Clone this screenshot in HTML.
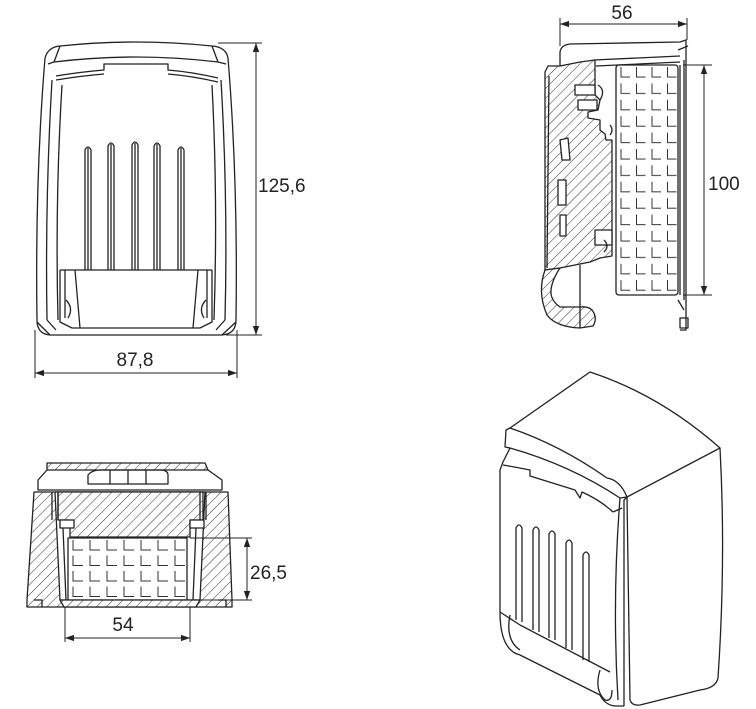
<!DOCTYPE html>
<html><head><meta charset="utf-8"><style>
html,body{margin:0;padding:0;background:#fff;}
svg{display:block;}
text{font-family:"Liberation Sans",sans-serif;font-size:19px;fill:#222;}
</style></head><body>
<svg width="756" height="709" viewBox="0 0 756 709" xmlns="http://www.w3.org/2000/svg">
<defs>
<pattern id="h" width="7" height="7" patternUnits="userSpaceOnUse" patternTransform="rotate(45)">
<rect width="7" height="7" fill="#fff"/><line x1="0" y1="0" x2="0" y2="7" stroke="#333" stroke-width="1"/>
</pattern>
<pattern id="g1" x="616" y="65" width="15.5" height="16.4" patternUnits="userSpaceOnUse">
<rect width="15.5" height="16.4" fill="#fff"/>
<path d="M5 2 V12 H14" fill="none" stroke="#333" stroke-width="1"/>
</pattern>
<pattern id="g2" x="68" y="538" width="17" height="15.5" patternUnits="userSpaceOnUse">
<rect width="17" height="15.5" fill="#fff"/>
<path d="M5 2 V12 H15" fill="none" stroke="#333" stroke-width="1"/>
</pattern>
<marker id="a" viewBox="0 0 10 10" refX="10" refY="5" markerWidth="9" markerHeight="9" orient="auto-start-reverse" markerUnits="userSpaceOnUse">
<path d="M0,1.5 L10,5 L0,8.5 Z" fill="#222"/></marker>
</defs>
<g fill="none" stroke="#222" stroke-width="1.3" stroke-linejoin="round">

<!-- FRONT VIEW -->
<path d="M45,58 Q48,47 60,46 Q135,38 212,46 Q226,47 228,58 Q238,180 236,320 Q236,334 222,335 L50,335 Q37,334 37,320 Q35,180 45,58 Z"/>
<path d="M54,62 Q135,52 218,62"/>
<path d="M56,76 Q80,72 104,70 L104,64 L168,64 L168,70 Q192,72 218,78"/>
<path d="M56,80 Q80,76 104,74 M168,74 Q192,76 218,82"/>
<path d="M48,64 L54,62 M60,46 L54,62 M212,46 L218,62 M226,64 L218,62"/>
<path d="M62,85 Q55,200 58,320 M212,85 Q218,200 214,320"/>
<path d="M52,80 Q45,200 47,320 M221,80 Q228,200 225,320"/>
<path d="M60,270 L212,270 M60,270 L60,322 L72,328 L200,328 L212,322 L212,270"/>
<path d="M75,270 L80,328 M198,270 L193,328 M65,270 L65,318 M207,270 L207,318"/>
<path d="M66,300 Q74,308 68,318 M206,300 Q198,308 204,318"/>
<path d="M47,320 L56,330 M225,320 L216,330 M37,322 L50,335 M236,322 L222,335"/>
<g>
<path d="M85,270 V150 Q88,144 91,150 V270 M88,270 V148"/>
<path d="M108,270 V146 Q111,140 114,146 V270 M111,270 V144"/>
<path d="M132,270 V145 Q135,139 138,145 V270 M135,270 V143"/>
<path d="M154,270 V146 Q157,140 160,146 V270 M157,270 V144"/>
<path d="M178,270 V150 Q181,144 184,150 V270 M181,270 V148"/>
</g>
<g stroke-width="1">
<path d="M218,43 H262 M226,335 H262 M35,330 V378 M237,330 V378"/>
</g>
<line x1="256" y1="43" x2="256" y2="335" marker-start="url(#a)" marker-end="url(#a)" stroke-width="1"/>
<line x1="35" y1="373" x2="237" y2="373" marker-start="url(#a)" marker-end="url(#a)" stroke-width="1"/>

<!-- SIDE VIEW -->
<path d="M560,70 V52 Q561,45 570,44 L680,42 L686,40 V330 H680" />
<path d="M594,60 L680,56 M596,66 L680,62 M678,50 L688,46"/>
<rect x="616" y="65" width="62" height="230" rx="3" fill="url(#g1)"/>
<path d="M680,65 V295 M684,60 V300 M678,300 L684,310 M680,318 H688 V328 H680 Z"/>
<path d="M545,72 L548,66 L560,66 L580,62 L595,60 L595,95 L600,100 L598,110 L588,112 L588,118 L600,120 L600,130 L605,134 L606,140 L612,140 L612,256 L600,258 L590,262 L575,265 L560,268 L545,270 Z" fill="url(#h)"/>
<path d="M545,270 Q537,292 547,315 Q556,327 580,328 L593,326 Q598,318 592,310 Q588,306 580,307 L560,307 Q550,300 551,290 Q552,280 560,268 Z" fill="url(#h)"/>
<path d="M549,76 L547,268 M580,265 V328"/>
<path d="M575,85 H595 V95 H575 Z M578,100 H597 V110 H578 Z" fill="#fff"/>
<path d="M560,140 L568,138 L570,160 L562,160 Z M558,180 L566,180 L566,205 L558,205 Z M560,215 L566,215 L566,236 L560,236 Z" fill="#fff"/>
<path d="M595,230 H612 V245 H595 Z" fill="#fff"/>
<path d="M598,85 Q606,90 600,100 M604,240 Q610,246 604,252 M610,125 Q614,130 610,135"/>
<g stroke-width="1">
<path d="M560,18 V46 M687,18 V40 M683,65 H712 M683,295 H712"/>
</g>
<line x1="560" y1="24" x2="687" y2="24" marker-start="url(#a)" marker-end="url(#a)" stroke-width="1"/>
<line x1="704" y1="65" x2="704" y2="295" marker-start="url(#a)" marker-end="url(#a)" stroke-width="1"/>

<!-- BOTTOM VIEW -->
<path d="M34,492 L27,600 L27,607 L232,607 L232,600 L228,492 Z" fill="url(#h)"/>
<path d="M55,492 L60,600 H200 L205,492 Z" fill="#fff"/>
<path d="M58,492 H203 V520 H190 V537 H70 V520 H58 Z" fill="url(#h)"/>
<path d="M47,463 L205,463 L208,470 L47,470 Z" fill="url(#h)"/>
<path d="M47,470 L38,480 L38,490 L222,490 L222,480 L208,470"/>
<path d="M88,484 V475 Q92,470 100,470 H160 Q168,470 168,475 V484 Z M110,470 V484 M128,470 V484 M146,470 V484"/>
<path d="M52,492 V520 M58,492 V520 M200,492 V520 M206,492 V520"/>
<path d="M60,520 H74 V528 H60 Z M190,520 H204 V528 H190 Z" fill="#fff"/>
<rect x="68" y="538" width="119" height="62" fill="url(#g2)"/>
<path d="M63,528 L66,600 M196,528 L193,600"/>
<path d="M60,600 H200 L196,607 H64 Z" fill="url(#h)"/>
<path d="M34,600 H42 V607 M218,600 H226 V607"/>
<g stroke-width="1">
<path d="M190,538 H252 M190,600 H252 M65,607 V642 M190,607 V642"/>
</g>
<line x1="247" y1="538" x2="247" y2="600" marker-start="url(#a)" marker-end="url(#a)" stroke-width="1"/>
<line x1="65" y1="638" x2="190" y2="638" marker-start="url(#a)" marker-end="url(#a)" stroke-width="1"/>

<!-- ISO VIEW -->
<path d="M590,372 Q660,395 720,448 L627,497 Q620,480 607,478 Q560,445 510,428 Z"/>
<path d="M510,428 L506,430 L505,447 L510,448 Q570,465 620,498 L627,497"/>
<path d="M720,448 Q726,560 718,678 Q716,688 700,690 L640,705 Q632,706 630,700 L627,497"/>
<path d="M627,497 L624,500 L624,706"/>
<path d="M620,498 Q612,600 618,700 M613,512 L622,508"/>
<path d="M510,448 L503,462 L500,470 L500,612 L520,625"/>
<path d="M503,465 Q520,468 530,470 L530,476 L575,490 L580,498 L582,492 Q600,500 613,512"/>
<path d="M500,612 Q500,650 520,655 L600,695 Q605,705 615,706 L624,706"/>
<path d="M510,615 Q505,640 520,650 M600,670 Q594,690 605,700 Q612,702 612,690"/>
<path d="M520,625 L610,672"/>
<path d="M516,620 V528 Q519,522 522,528 V622 M533,630 V530 Q536,524 539,530 V632"/>
<path d="M549,638 V534 Q552,528 555,534 V640 M566,648 V543 Q569,537 572,543 V650 M583,660 V555 Q586,549 589,555 V662"/>
</g>

<text x="258" y="192">125,6</text>
<text x="135" y="366" text-anchor="middle">87,8</text>
<text x="622" y="19" text-anchor="middle">56</text>
<text x="708" y="190">100</text>
<text x="250" y="579">26,5</text>
<text x="123" y="631" text-anchor="middle">54</text>
</svg>
</body></html>
